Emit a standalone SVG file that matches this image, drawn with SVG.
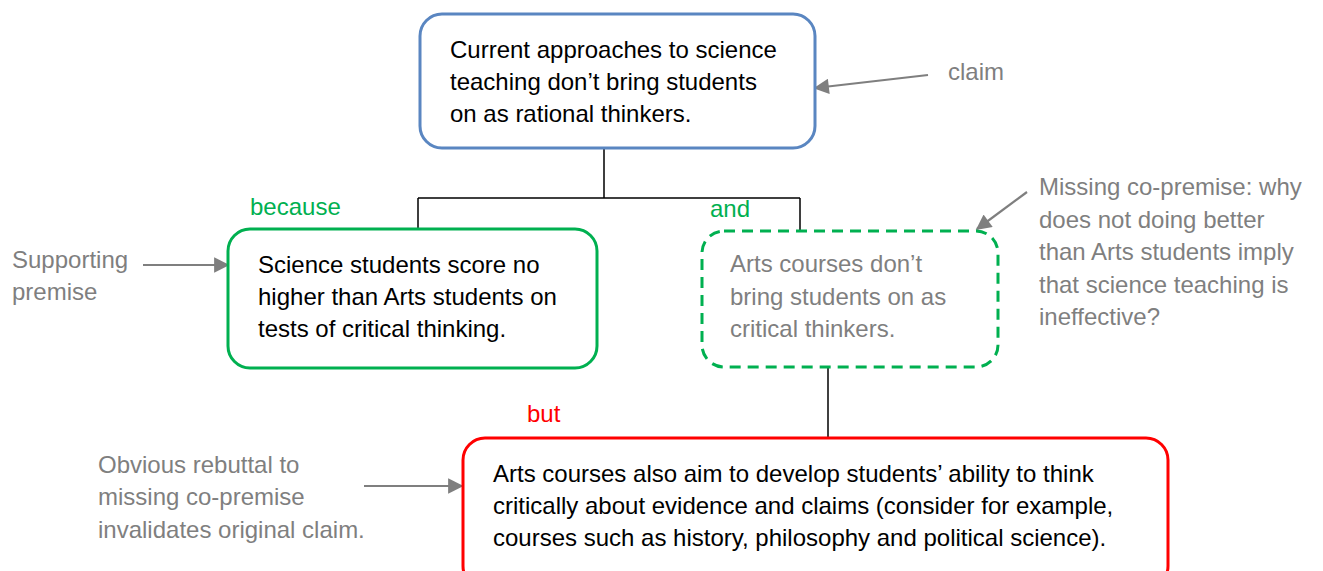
<svg xmlns="http://www.w3.org/2000/svg" width="1323" height="571" viewBox="0 0 1323 571">
<defs>
<style>
.t{font-family:"Liberation Sans",Arial,sans-serif;font-size:24px;fill:#000}
.g{fill:#7F7F7F}
.grn{fill:#00B050}
.red{fill:#FF0000}
.box{fill:#fff;stroke-width:3}
.ln{stroke:#000;stroke-width:1.5;fill:none}
.ar{stroke:#7F7F7F;stroke-width:2.2;fill:none;marker-end:url(#ah)}
</style>
<marker id="ah" viewBox="0 0 10 10" refX="9" refY="5" markerWidth="7.5" markerHeight="7" orient="auto" markerUnits="strokeWidth">
<path d="M0,0 L10,5 L0,10 z" fill="#7F7F7F"/>
</marker>
</defs>
<rect width="1323" height="571" fill="#fff"/>
<g id="connectors">
<path class="ln" d="M604,148 V198 M418,198 H800 M418,198 V229 M800,198 V231"/>
<path class="ln" d="M828,367 V438"/>
<path class="ar" d="M928,75 L815,88"/>
<path class="ar" d="M143,265 H228"/>
<path class="ar" d="M1027,192 L977,229"/>
<path class="ar" d="M364,486 H462"/>
</g>
<g id="claim">
<rect class="box" x="420" y="14" width="395" height="134" rx="22" stroke="#5A86C1"/>
<text class="t" x="450" y="58">Current approaches to science</text>
<text class="t" x="450" y="90">teaching don’t bring students</text>
<text class="t" x="450" y="122">on as rational thinkers.</text>
</g>
<g id="premise">
<rect class="box" x="228" y="229" width="369" height="139" rx="22" stroke="#00B050"/>
<text class="t" x="258" y="273">Science students score no</text>
<text class="t" x="258" y="305">higher than Arts students on</text>
<text class="t" x="258" y="337">tests of critical thinking.</text>
</g>
<g id="copremise">
<rect class="box" x="702" y="231" width="296" height="136" rx="22" stroke="#00B050" stroke-dasharray="11,7"/>
<text class="t g" x="730" y="272">Arts courses don’t</text>
<text class="t g" x="730" y="305">bring students on as</text>
<text class="t g" x="730" y="337">critical thinkers.</text>
</g>
<g id="rebuttal">
<rect class="box" x="463" y="438" width="705" height="150" rx="22" stroke="#FF0000"/>
<text class="t" x="493" y="482">Arts courses also aim to develop students’ ability to think</text>
<text class="t" x="493" y="514">critically about evidence and claims (consider for example,</text>
<text class="t" x="493" y="546">courses such as history, philosophy and political science).</text>
</g>
<g id="labels">
<text class="t grn" x="250" y="215">because</text>
<text class="t grn" x="710" y="217">and</text>
<text class="t red" x="527" y="422">but</text>
<text class="t g" x="948" y="80">claim</text>
<text class="t g" x="12" y="268">Supporting</text>
<text class="t g" x="12" y="300">premise</text>
<text class="t g" x="1039" y="195">Missing co-premise: why</text>
<text class="t g" x="1039" y="228">does not doing better</text>
<text class="t g" x="1039" y="260">than Arts students imply</text>
<text class="t g" x="1039" y="293">that science teaching is</text>
<text class="t g" x="1039" y="325">ineffective?</text>
<text class="t g" x="98" y="473">Obvious rebuttal to</text>
<text class="t g" x="98" y="505">missing co-premise</text>
<text class="t g" x="98" y="538">invalidates original claim.</text>
</g>
</svg>
